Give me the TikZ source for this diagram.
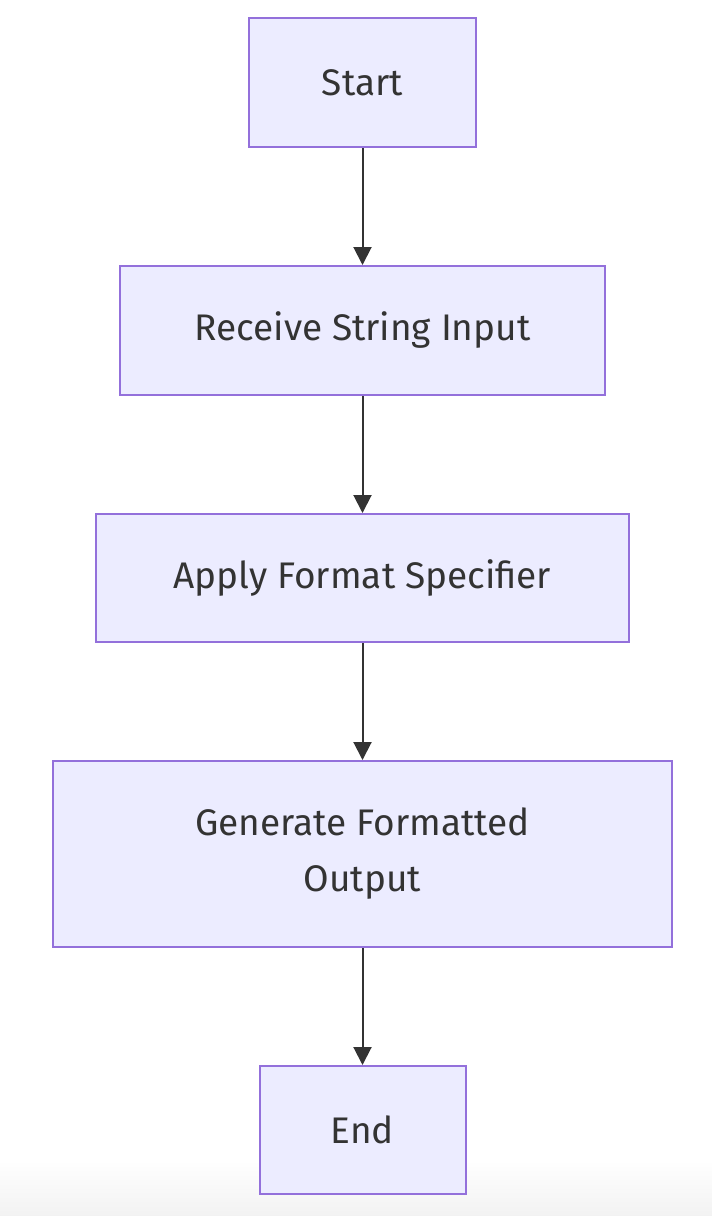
\documentclass[tikz,border=0pt]{standalone}
\usepackage{fontspec}
\setmainfont{Fira Sans}
\usetikzlibrary{arrows.meta}
\definecolor{boxfill}{HTML}{ECECFF}
\definecolor{boxline}{HTML}{9370DB}
\definecolor{ink}{HTML}{333333}

\begin{document}
\begin{tikzpicture}[x=1pt,y=-1pt,
    stepbox/.style={draw=boxline, line width=2pt, fill=boxfill, text=ink, align=center, inner sep=0pt, font=\fontsize{37}{56}\selectfont},
    flow/.style={draw=ink, line width=2pt, -{Triangle[length=18pt,width=18pt]}}]
    \useasboundingbox (0,0) rectangle (712,1216);
    \shade[top color=white, bottom color=black!5] (0,1160) rectangle (712,1216);
    \node[stepbox, minimum width=227pt, minimum height=129pt] (start) at (362.5,82.5) {Start};
    \node[stepbox, minimum width=485pt, minimum height=129pt] (recv) at (362.5,330.5) {Receive String Input};
    \node[stepbox, minimum width=533pt, minimum height=128pt] (apply) at (362.5,578) {Apply Format Specifier};
    \node[stepbox, minimum width=619pt, minimum height=186pt] (gen) at (362.5,854) {Generate Formatted\\Output};
    \node[stepbox, minimum width=206pt, minimum height=128pt] (end) at (362.5,1130) {End};
    \draw[flow] (start) -- (recv);
    \draw[flow] (recv) -- (apply);
    \draw[flow] (apply) -- (gen);
    \draw[flow] (gen) -- (end);
  \end{tikzpicture}
\end{document}
